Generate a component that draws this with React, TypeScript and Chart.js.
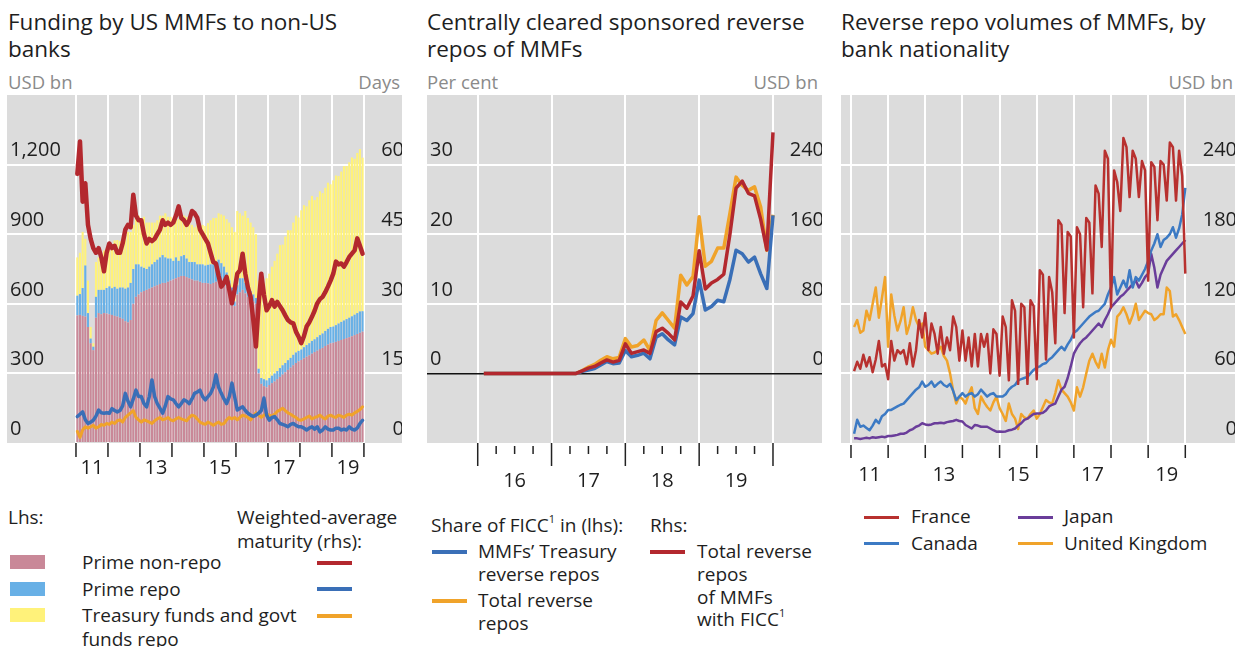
import React, { useEffect, useRef } from 'react';
import { Chart, registerables } from 'chart.js';
Chart.register(...registerables);

const FONT = "'Open Sans', 'Noto Sans', sans-serif";

// ---------------- Panel 1: Funding by US MMFs to non-US banks (monthly, Jan 2011 - Dec 2019)
const p1StartYear = 2011;
const primeNonRepo = [
  550, 552, 548, 545, 500, 430, 400, 540, 560, 555, 560, 558,
  555, 552, 548, 545, 540, 535, 525, 520, 530, 600, 630, 640,
  650, 655, 660, 665, 670, 675, 680, 685, 690, 690, 695, 700,
  705, 710, 715, 720, 720, 715, 710, 705, 700, 700, 695, 690,
  690, 688, 685, 690, 695, 700, 690, 680, 675, 660, 640, 590,
  640, 650, 660, 645, 630, 620, 610, 600, 300, 255, 245, 240,
  250, 258, 265, 275, 285, 295, 305, 315, 325, 335, 345, 352,
  358, 365, 372, 378, 385, 392, 398, 405, 410, 418, 424, 430,
  432, 436, 440, 444, 448, 452, 456, 460, 465, 470, 475, 480,
];
const primeRepo = [
  85, 90, 120, 220, 60, 20, 15, 90, 100, 105, 100, 110,
  120, 115, 125, 120, 130, 135, 140, 150, 160, 150, 140, 130,
  110, 100, 90, 95, 100, 105, 110, 115, 120, 110, 100, 95,
  80, 90, 70, 85, 90, 80, 70, 75, 80, 70, 75, 80,
  75, 80, 85, 80, 85, 90, 85, 80, 60, 40, 30, 20,
  40, 60, 50, 45, 40, 35, 30, 25, 20, 25, 30, 30,
  30, 32, 35, 35, 38, 40, 40, 42, 42, 45, 45, 45,
  45, 48, 50, 52, 55, 55, 58, 60, 62, 65, 68, 70,
  70, 72, 75, 78, 80, 82, 84, 86, 88, 90, 92, 88,
];
const treasuryGovtRepo = [
  165, 178, 242, 115, 140, 50, 15, 150, 140, 160, 170, 172,
  180, 190, 200, 210, 200, 220, 230, 240, 220, 190, 200, 210,
  210, 220, 200, 190, 180, 170, 170, 180, 170, 190, 180, 180,
  180, 170, 180, 160, 170, 180, 170, 160, 150, 170, 160, 170,
  170, 180, 190, 200, 190, 200, 210, 220, 230, 250, 260, 300,
  320, 280, 270, 310, 300, 295, 290, 275, 380, 380, 415, 440,
  450, 470, 485, 506, 530, 520, 545, 560, 550, 570, 590, 575,
  600, 612, 598, 616, 625, 600, 604, 620, 605, 617, 630, 615,
  630, 645, 636, 648, 665, 660, 670, 685, 672, 690, 700, 662,
];
const wamPrimeNonRepo = [
  58, 65, 52, 56, 47, 44, 42, 41, 42, 40, 37, 41,
  43, 42, 42.5, 41, 41, 43, 46, 47, 46.5, 53.5, 49, 48,
  48, 45, 43, 44, 43.5, 44, 45, 46, 48, 47, 47.5, 47,
  47.5, 49, 51, 48.5, 48, 47, 48, 50, 49.5, 48.5, 46, 45,
  44, 43, 41, 39, 38.7, 36, 33.7, 34.5, 35.8, 33, 30.1, 33,
  36.5, 37.2, 40.8, 36.5, 33.5, 31.5, 26.5, 20.8, 30, 36.5, 32, 28.6,
  29.5, 30.8, 29.4, 30.4, 29.5, 28.6, 27.5, 26.5, 26, 25.8, 24, 22.9,
  21.5, 23, 25.1, 26, 27.2, 28.5, 30.1, 31, 31.5, 32.5, 33.7, 35,
  36.5, 39.1, 38.5, 38.7, 38, 39, 40.1, 40.8, 41.5, 44.1, 42.5, 40.8,
];
const wamPrimeRepo = [
  5.7, 6.2, 6.7, 5.0, 4.2, 4.5, 4.9, 5.8, 7.1, 6.5, 6.4, 6.5,
  6.4, 7.4, 7.0, 6.7, 7.0, 8.0, 10.7, 9.0, 7.8, 9.5, 11.4, 10.0,
  10.0, 8.5, 7.8, 10.0, 13.6, 10.0, 8.5, 7.5, 6.4, 8.0, 10.0, 9.5,
  9.3, 8.5, 7.8, 8.5, 9.3, 9.0, 8.5, 9.5, 10.7, 11.0, 11.4, 10.0,
  9.3, 10.0, 10.7, 12.0, 14.7, 12.0, 10.7, 9.5, 8.5, 10.0, 12.9, 10.0,
  7.1, 7.5, 7.8, 7.0, 6.4, 6.0, 5.7, 6.0, 6.4, 7.0, 9.7, 6.0,
  4.9, 5.5, 5.7, 5.0, 4.2, 4.0, 3.8, 3.5, 4.0, 4.2, 3.8, 3.5,
  3.5, 3.2, 2.8, 3.2, 3.5, 3.0, 3.5, 2.4, 2.8, 3.5, 3.0, 2.8,
  2.8, 3.2, 3.2, 2.8, 3.0, 2.8, 3.5, 3.0, 2.8, 3.2, 4.2, 4.9,
];
const wamTreasury = [
  2.5, 1.2, 2.8, 3.5, 3.2, 3.5, 3.8, 3.2, 3.5, 4.0, 3.8, 4.2,
  4.0, 4.5, 4.2, 4.8, 5.0, 4.5, 5.5, 6.0, 6.5, 7.0, 5.5, 5.0,
  4.5, 5.0, 4.8, 4.5, 4.2, 4.8, 5.2, 5.5, 5.0, 5.2, 5.5, 5.0,
  4.8, 5.2, 5.5, 5.2, 5.0, 4.8, 5.5, 6.0, 5.8, 5.2, 4.5, 4.2,
  4.0, 4.5, 4.2, 3.8, 4.2, 4.5, 4.0, 4.2, 5.0, 5.5, 5.2, 5.5,
  5.0, 5.5, 6.0, 5.8, 5.5, 5.0, 5.8, 6.5, 6.0, 5.5, 6.0, 6.2,
  6.0, 5.8, 6.2, 6.8, 7.1, 7.5, 7.0, 6.5, 6.2, 5.8, 5.5, 5.0,
  4.9, 5.2, 5.5, 5.8, 5.2, 5.5, 5.7, 6.0, 5.5, 5.2, 5.8, 6.0,
  5.7, 5.5, 6.0, 5.8, 5.5, 6.0, 6.2, 6.0, 6.5, 6.8, 7.2, 7.8,
];
const p1TickYears = [2011, 2012, 2013, 2014, 2015, 2016, 2017, 2018, 2019, 2020];
const p1LabelYears = [2011, 2013, 2015, 2017, 2019];
const p1LeftTicks = [0, 300, 600, 900, 1200];
const p1RightTicks = [0, 15, 30, 45, 60];

// ---------------- Panel 2: Centrally cleared sponsored reverse repos (monthly, month ends 2016-2019)
const p2StartYear = 2016;
const shareTreasuryRepos = [
  0, 0, 0, 0, 0, 0, 0, 0, 0, 0, 0, 0, 0, 0, 0, 0,
  0.3, 0.5, 0.7, 1.2, 1.7, 1.4, 1.5, 3.3, 2.4, 2.6, 2.9, 2.1, 5.2, 5.7, 4.8, 4.1,
  8.1, 7.6, 8.6, 13.4, 9.1, 9.6, 10.5, 10.3, 13.5, 17.7, 17.2, 16.0, 16.7, 14.3, 12.2, 22.7,
];
const shareTotalRepos = [
  0, 0, 0, 0, 0, 0, 0, 0, 0, 0, 0, 0, 0, 0, 0, 0,
  0.4, 0.9, 1.3, 1.9, 2.4, 2.1, 2.3, 5.0, 3.8, 4.0, 4.8, 3.3, 7.6, 8.7, 7.6, 6.5,
  14.1, 12.7, 13.9, 22.5, 15.4, 16.1, 18.0, 18.0, 23.0, 28.2, 27.0, 26.3, 26.8, 23.9, 17.7, 22.8,
];
const reposWithFicc = [
  0, 0, 0, 0, 0, 0, 0, 0, 0, 0, 0, 0, 0, 0, 0, 0,
  3, 6, 8, 12, 15.5, 13, 15, 34, 23, 25, 27, 23, 48, 52, 46, 38.5,
  82, 75, 89, 141, 97, 104, 108, 114, 160, 213, 221, 207, 204, 177, 142, 277,
];
const p2MajorYears = [2016, 2017, 2018, 2019, 2020];
const p2LabelYears = [2016, 2017, 2018, 2019];
const p2LeftTicks = [0, 10, 20, 30];
const p2RightTicks = [0, 80, 160, 240];

// ---------------- Panel 3: Reverse repo volumes by bank nationality (monthly, month ends 2011-2019)
const p3StartYear = 2011;
const france = [
  62, 70, 64, 76, 66, 74, 61, 72, 88, 66, 68, 55,
  88, 71, 80, 77, 80, 68, 86, 66, 80, 106, 91, 112,
  80, 103, 94, 77, 100, 77, 91, 80, 109, 100, 71, 97,
  71, 91, 66, 94, 66, 94, 83, 94, 60, 98, 94, 58,
  109, 100, 54, 123, 114, 51, 120, 117, 51, 123, 118, 55,
  149, 145, 72, 143, 130, 86, 192, 188, 112, 182, 178, 91,
  186, 180, 117, 194, 190, 129, 222, 215, 169, 252, 245, 117,
  235, 225, 200, 263, 255, 212, 252, 245, 212, 243, 235, 140,
  242, 238, 192, 243, 240, 209, 259, 255, 209, 252, 230, 146,
];
const canada = [
  8, 20, 14, 15, 13, 11, 15, 20, 17, 23, 25, 28.5,
  28.5, 30, 31.5, 33, 34, 37, 40, 43, 46, 48, 53, 48.5,
  50, 53, 48.5, 51, 53, 50, 48.5, 51, 45, 37, 40, 43,
  40, 42, 43, 40, 42, 46, 43, 40, 42, 43, 40, 40,
  40, 42, 46, 48.5, 50, 54, 55, 56, 57, 60, 63, 65,
  66, 68, 69, 72, 74, 77, 80, 83, 80, 85, 89, 95,
  97, 100, 103, 106, 109, 111, 113, 114, 117, 120, 128, 134,
  143, 128, 134, 140, 134, 149, 134, 143, 140, 145, 150, 157,
  166, 172, 180, 169, 175, 177, 180, 186, 177, 185, 197, 220,
];
const japan = [
  4, 4, 3.5, 4, 4.5, 4, 5, 4.5, 5, 5.5, 5, 6,
  6, 6.5, 7, 8, 8, 9, 11, 12, 14, 15, 17, 16,
  15.5, 16, 17, 17, 17.5, 17, 18, 18.5, 19, 20, 19, 18.5,
  15.5, 14, 12.5, 15.5, 15, 14, 14, 14, 12.5, 11, 9.7, 10,
  9.7, 10, 11, 11.5, 12.5, 15, 17, 20, 21, 23, 25, 25.5,
  25.5, 26, 28, 31.5, 33, 34, 40, 46, 48.5, 56, 66, 77,
  82, 86, 89, 91, 94, 97, 100, 103, 100, 106, 111, 117,
  120, 123, 126, 128, 131, 134, 137, 140, 134, 138, 143, 146,
  163, 151, 134, 145, 151, 157, 160, 163, 166, 169, 172, 175,
];
const unitedKingdom = [
  100, 106, 95, 97, 114, 106, 120, 134, 108, 125, 143, 83,
  128, 110, 97, 105, 117, 94, 103, 117, 106, 100, 103, 83,
  80, 77, 78, 80, 83, 75, 71, 60, 45, 34, 40, 38,
  34, 42, 48, 30, 25, 40, 35, 31, 28, 35, 40, 30,
  25, 19, 34, 25, 21, 12, 25, 22, 21, 25, 28, 21,
  25, 31, 37, 35, 34, 43, 54, 46, 43, 40, 35, 28,
  48, 40, 48, 60, 71, 77, 70, 65, 77, 65, 80, 89,
  83, 109, 112, 117, 111, 103, 110, 120, 106, 110, 114, 112,
  111, 106, 108, 111, 111, 134, 131, 109, 111, 106, 100, 94,
];
const p3TickYears = [2011, 2012, 2013, 2014, 2015, 2016, 2017, 2018, 2019, 2020];
const p3LabelYears = [2011, 2013, 2015, 2017, 2019];
const p3RightTicks = [0, 60, 120, 180, 240];

// ---------------- styling
const BG = '#dcdcdc';
const TXT = '#1e1e1e';
const UNIT = '#8a8a8a';
const C_RED = '#b3282e';
const C_BLUE = '#3a6fb7';
const C_ORANGE = '#f0a32a';
const C_PURPLE = '#6a3d9a';
const C_PINK = '#c98898';
const C_LBLUE = '#68b0e6';
const C_YELLOW = '#fff27a';

const PLOT_TOP = 95;
const PLOT_H = 348;
const AXIS_H = 60;

const bgPlugin = {
  id: 'bgfill',
  beforeDraw(chart: any) {
    const { ctx, chartArea: a } = chart;
    ctx.save();
    ctx.fillStyle = BG;
    ctx.fillRect(a.left, a.top, a.right - a.left, a.bottom - a.top);
    ctx.restore();
  },
};

function tickMarkPlugin(marks: Array<[number, number, number]>) {
  return {
    id: 'tickmarks',
    afterDraw(chart: any) {
      const { ctx, chartArea } = chart;
      const xs = chart.scales.x;
      ctx.save();
      ctx.strokeStyle = '#222';
      ctx.lineWidth = 1.5;
      for (const [v, a, b] of marks) {
        const px = xs.getPixelForValue(v);
        ctx.beginPath();
        ctx.moveTo(px, chartArea.bottom + a);
        ctx.lineTo(px, chartArea.bottom + b);
        ctx.stroke();
      }
      ctx.restore();
    },
  };
}

const zeroPad = (s: any) => {
  s.paddingTop = 0; s.paddingBottom = 0; s.paddingLeft = 0; s.paddingRight = 0;
};

function xAxis(min: number, max: number, gridYears: number[], labelYears: number[], padding: number, stacked = false) {
  const labelVals = labelYears.map((y) => y + 0.5);
  return {
    type: 'linear',
    min, max, stacked,
    offset: false,
    afterBuildTicks: (s: any) => {
      const vals = [...gridYears, ...labelVals].sort((a, b) => a - b);
      s.ticks = vals.map((v) => ({ value: v }));
    },
    afterFit: (s: any) => { s.height = AXIS_H; zeroPad(s); },
    ticks: {
      autoSkip: false, maxRotation: 0, minRotation: 0, padding,
      font: { family: FONT, size: 20 }, color: TXT,
      callback: (v: number) => (labelVals.includes(v) ? String(Math.floor(v)).slice(2) : ''),
    },
    grid: {
      offset: false,
      drawTicks: false, lineWidth: 2,
      color: (c: any) => (c.tick && gridYears.includes(c.tick.value) ? '#ffffff' : 'rgba(0,0,0,0)'),
    },
    border: { display: false },
  };
}

function yAxis(position: string, min: number, max: number, step: number, shown: number[], gridOpts: any, stacked = false) {
  return {
    type: 'linear', position, min, max, stacked,
    afterFit: (s: any) => { s.width = 0; zeroPad(s); },
    ticks: {
      stepSize: step, mirror: true, padding: position === 'left' ? 3 : 2, labelOffset: -14,
      font: { family: FONT, size: 20 }, color: TXT,
      callback: (v: number) => (shown.includes(v) ? v.toLocaleString('en-US') : ''),
    },
    grid: gridOpts,
    border: { display: false },
  };
}

const whiteGrid = (shown: number[]) => ({
  drawTicks: false, lineWidth: 2,
  color: (c: any) => (c.tick && shown.includes(c.tick.value) && c.tick.value !== 0 ? '#ffffff' : 'rgba(0,0,0,0)'),
});

const baseOptions = {
  responsive: false,
  maintainAspectRatio: false,
  animation: false,
  layout: { padding: 0 },
  plugins: { legend: { display: false }, tooltip: { enabled: false } },
  elements: { point: { radius: 0 }, line: { tension: 0 } },
};

function panel1Config() {
  const xs = primeNonRepo.map((_, i) => p1StartYear + (i + 0.5) / 12);
  const pts = (arr: number[]) => arr.map((v, i) => ({ x: xs[i], y: v }));
  const bar = (label: string, arr: number[], color: string) => ({
    type: 'bar', label, data: pts(arr), backgroundColor: color, yAxisID: 'y', stack: 's', order: 10,
    barPercentage: 0.78, categoryPercentage: 1, borderWidth: 0,
  });
  const line = (label: string, arr: number[], color: string, w: number, order: number) => ({
    type: 'line', label, data: pts(arr), borderColor: color, borderWidth: w, yAxisID: 'y1', order,
    pointRadius: 0, fill: false, borderJoinStyle: 'round', borderCapStyle: 'round',
  });
  const marks: Array<[number, number, number]> = p1TickYears.map((y) => [y, 0, 14]);
  return {
    type: 'bar',
    data: {
      datasets: [
        bar('Prime non-repo', primeNonRepo, C_PINK),
        bar('Prime repo', primeRepo, C_LBLUE),
        bar('Treasury funds and govt funds repo', treasuryGovtRepo, C_YELLOW),
        line('WAM Treasury', wamTreasury, C_ORANGE, 3, 3),
        line('WAM prime repo', wamPrimeRepo, C_BLUE, 3.5, 2),
        line('WAM prime non-repo', wamPrimeNonRepo, C_RED, 4.5, 1),
      ],
    },
    options: {
      ...baseOptions,
      scales: {
        x: xAxis(2008.844, 2021.19, p1TickYears, p1LabelYears, 13, true),
        y: yAxis('left', 0, 1500, 300, p1LeftTicks, whiteGrid(p1LeftTicks), true),
        y1: yAxis('right', 0, 75, 15, p1RightTicks, { display: false }),
      },
    },
    plugins: [bgPlugin, tickMarkPlugin(marks)],
  };
}

function panel2Config() {
  const xs = shareTotalRepos.map((_, i) => p2StartYear + (i + 1) / 12);
  const pts = (arr: number[]) => arr.map((v, i) => ({ x: xs[i], y: v }));
  const line = (label: string, arr: number[], color: string, axis: string, order: number) => ({
    label, data: pts(arr), borderColor: color, borderWidth: 3.5, yAxisID: axis, order,
    pointRadius: 0, fill: false, borderJoinStyle: 'round',
  });
  const marks: Array<[number, number, number]> = [];
  p2MajorYears.forEach((y) => marks.push([y, 0, 23]));
  p2LabelYears.forEach((y) => [0.25, 0.5, 0.75].forEach((q) => marks.push([y + q, 3, 11])));
  return {
    type: 'line',
    data: {
      datasets: [
        line('Total reverse repos', shareTotalRepos, C_ORANGE, 'y', 3),
        line("MMFs' Treasury reverse repos", shareTreasuryRepos, C_BLUE, 'y', 2),
        line('Total reverse repos of MMFs with FICC', reposWithFicc, C_RED, 'y1', 1),
      ],
    },
    options: {
      ...baseOptions,
      scales: {
        x: xAxis(2015.313, 2020.664, p2MajorYears, p2LabelYears, 26),
        y: yAxis('left', -10, 40, 10, p2LeftTicks, {
          drawTicks: false,
          lineWidth: (c: any) => (c.tick && c.tick.value === 0 ? 1.5 : 2),
          color: (c: any) => {
            if (!c.tick) return 'rgba(0,0,0,0)';
            if (c.tick.value === 0) return '#111111';
            return p2LeftTicks.includes(c.tick.value) ? '#ffffff' : 'rgba(0,0,0,0)';
          },
        }),
        y1: yAxis('right', -80, 320, 80, p2RightTicks, { display: false }),
      },
    },
    plugins: [bgPlugin, tickMarkPlugin(marks)],
  };
}

function panel3Config() {
  const xs = france.map((_, i) => p3StartYear + (i + 1) / 12);
  const pts = (arr: number[]) => arr.map((v, i) => ({ x: xs[i], y: v }));
  const line = (label: string, arr: number[], color: string, order: number) => ({
    label, data: pts(arr), borderColor: color, borderWidth: 2.5, yAxisID: 'y', order,
    pointRadius: 0, fill: false, borderJoinStyle: 'round',
  });
  const marks: Array<[number, number, number]> = p3TickYears.map((y) => [y, 2, 15]);
  return {
    type: 'line',
    data: {
      datasets: [
        line('United Kingdom', unitedKingdom, C_ORANGE, 4),
        line('Japan', japan, C_PURPLE, 3),
        line('Canada', canada, '#3c7ac4', 2),
        line('France', france, '#b8312f', 1),
      ],
    },
    options: {
      ...baseOptions,
      scales: {
        x: xAxis(2010.731, 2021.338, p3TickYears, p3LabelYears, 20),
        y: yAxis('right', 0, 300, 60, p3RightTicks, whiteGrid(p3RightTicks)),
      },
    },
    plugins: [bgPlugin, tickMarkPlugin(marks)],
  };
}

function ChartBox({ left, width, make }: { left: number; width: number; make: () => any }) {
  const ref = useRef<HTMLCanvasElement>(null);
  useEffect(() => {
    const chart = new Chart(ref.current as HTMLCanvasElement, make());
    return () => chart.destroy();
  }, []);
  const height = PLOT_H + AXIS_H;
  return (
    <canvas
      ref={ref}
      width={width}
      height={height}
      style={{ position: 'absolute', left, top: PLOT_TOP, width, height }}
    />
  );
}

function T({ x, cy, size, color = TXT, children, align = 'left' }: { x: number; cy: number; size: number; color?: string; children: React.ReactNode; align?: 'left' | 'right' }) {
  const lh = Math.round(size * 1.3);
  const style: React.CSSProperties = {
    position: 'absolute', top: cy - lh / 2, lineHeight: lh + 'px', fontSize: size,
    fontFamily: FONT, color, whiteSpace: 'nowrap',
  };
  if (align === 'left') style.left = x; else style.right = 1247 - x;
  return <div style={style}>{children}</div>;
}

function LineSw({ x, cy, color, w = 35, h = 4 }: { x: number; cy: number; color: string; w?: number; h?: number }) {
  return <div style={{ position: 'absolute', left: x, top: cy - h / 2, width: w, height: h, background: color }} />;
}
function BoxSw({ x, cy, color }: { x: number; cy: number; color: string }) {
  return <div style={{ position: 'absolute', left: x, top: cy - 7, width: 35, height: 14, background: color }} />;
}

const Sup = () => <sup style={{ fontSize: 11, verticalAlign: 'top', lineHeight: 0, position: 'relative', top: 6 }}>1</sup>;

const TITLE = 22.5;
const UNITS = 18.5;
const LEG = 19;

export default function App() {
  return (
    <div style={{ position: 'absolute', left: 0, top: 0, width: 1247, height: 647, background: '#ffffff', overflow: 'hidden' }}>
      {/* titles */}
      <T x={8} cy={21} size={TITLE}>Funding by US MMFs to non-US</T>
      <T x={8} cy={48} size={TITLE}>banks</T>
      <T x={427} cy={21} size={TITLE}>Centrally cleared sponsored reverse</T>
      <T x={427} cy={48} size={TITLE}>repos of MMFs</T>
      <T x={841} cy={21} size={TITLE}>Reverse repo volumes of MMFs, by</T>
      <T x={841} cy={48} size={TITLE}>bank nationality</T>

      {/* units */}
      <T x={8} cy={82} size={UNITS} color={UNIT}>USD bn</T>
      <T x={400} cy={82} size={UNITS} color={UNIT} align="right">Days</T>
      <T x={427} cy={82} size={UNITS} color={UNIT}>Per cent</T>
      <T x={818} cy={82} size={UNITS} color={UNIT} align="right">USD bn</T>
      <T x={1233} cy={82} size={UNITS} color={UNIT} align="right">USD bn</T>

      <ChartBox left={7} width={395} make={panel1Config} />
      <ChartBox left={427} width={395} make={panel2Config} />
      <ChartBox left={841} width={394} make={panel3Config} />

      {/* legend panel 1 */}
      <T x={8} cy={517} size={LEG}>Lhs:</T>
      <T x={237} cy={517} size={LEG}>Weighted-average</T>
      <T x={237} cy={541} size={LEG}>maturity (rhs):</T>
      <BoxSw x={10} cy={562} color={C_PINK} />
      <T x={82} cy={562} size={LEG}>Prime non-repo</T>
      <BoxSw x={10} cy={589} color={C_LBLUE} />
      <T x={82} cy={589} size={LEG}>Prime repo</T>
      <BoxSw x={10} cy={615} color={C_YELLOW} />
      <T x={82} cy={615} size={LEG}>Treasury funds and govt</T>
      <T x={82} cy={639} size={LEG}>funds repo</T>
      <LineSw x={317} cy={563} color={C_RED} />
      <LineSw x={317} cy={589} color={C_BLUE} />
      <LineSw x={317} cy={616} color={C_ORANGE} />

      {/* legend panel 2 */}
      <T x={431} cy={525} size={LEG}>Share of FICC<Sup /> in (lhs):</T>
      <T x={650} cy={525} size={LEG}>Rhs:</T>
      <LineSw x={432} cy={552} color={C_BLUE} />
      <T x={478} cy={551} size={LEG}>MMFs’ Treasury</T>
      <T x={478} cy={574} size={LEG}>reverse repos</T>
      <LineSw x={432} cy={601} color={C_ORANGE} />
      <T x={478} cy={600} size={LEG}>Total reverse</T>
      <T x={478} cy={623} size={LEG}>repos</T>
      <LineSw x={650} cy={552} color={C_RED} />
      <T x={697} cy={551} size={LEG}>Total reverse</T>
      <T x={697} cy={574} size={LEG}>repos</T>
      <T x={697} cy={597} size={LEG}>of MMFs</T>
      <T x={697} cy={619} size={LEG}>with FICC<Sup /></T>

      {/* legend panel 3 */}
      <LineSw x={864} cy={517} color="#b8312f" h={3} />
      <T x={911} cy={516} size={LEG}>France</T>
      <LineSw x={1018} cy={517} color={C_PURPLE} h={3} />
      <T x={1064} cy={516} size={LEG}>Japan</T>
      <LineSw x={864} cy={543} color="#3c7ac4" h={3} />
      <T x={911} cy={543} size={LEG}>Canada</T>
      <LineSw x={1018} cy={543} color={C_ORANGE} h={3} />
      <T x={1064} cy={543} size={LEG}>United Kingdom</T>
    </div>
  );
}
